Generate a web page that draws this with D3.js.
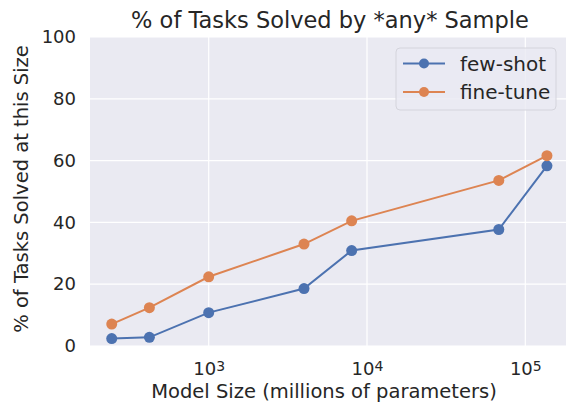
<!DOCTYPE html>
<html><head><meta charset="utf-8">
<script src="https://cdn.jsdelivr.net/npm/d3@7"></script>
<style>
body{margin:0;background:#fff;}
text{font-family:"DejaVu Sans",sans-serif;fill:#262626;}
</style></head><body>
<svg id="c" width="566" height="403"></svg>
<script>
const modelSizes = [244, 422, 1000, 4000, 8000, 68000, 137000];
const fewShot   = [2.4, 2.8, 10.8, 18.6, 30.9, 37.7, 58.3];
const fineTune  = [7.1, 12.4, 22.4, 33.0, 40.5, 53.6, 61.6];
const seriesNames = ["few-shot", "fine-tune"];
const seriesColors = ["#4C72B0", "#DD8452"];
const yTicks = [0, 20, 40, 60, 80, 100];
const xTicks = [1000, 10000, 100000];
const xTickExp = ["3", "4", "5"];

const svg = d3.select("#c");
const m = {l:90, t:37, r:566, b:346};
const dec = 158.3;
const xMin = 178, xMax = 1.6e5;
const x = d3.scaleLog().domain([xMin, xMax])
  .range([208.7 - dec*(3 - Math.log10(xMin)), 208.7 + dec*(Math.log10(xMax) - 3)]);
const y = d3.scaleLinear().domain([0, 100]).range([m.b, m.t]);

svg.append("rect").attr("x", m.l).attr("y", m.t).attr("width", m.r - m.l).attr("height", m.b - m.t).attr("fill", "#EAEAF2");

const g = svg.append("g");
g.selectAll(".gy").data(yTicks).join("line")
  .attr("x1", m.l).attr("x2", m.r).attr("y1", d => y(d)).attr("y2", d => y(d))
  .attr("stroke", "#fff").attr("stroke-width", 1.2);
g.selectAll(".gx").data(xTicks).join("line")
  .attr("y1", m.t).attr("y2", m.b).attr("x1", d => x(d)).attr("x2", d => x(d))
  .attr("stroke", "#fff").attr("stroke-width", 1.2);

// y axis labels
const yAxis = d3.axisLeft(y).tickValues(yTicks).tickSize(0).tickPadding(14);
const ya = svg.append("g").attr("transform", `translate(${m.l},0)`).call(yAxis);
ya.select(".domain").remove();
ya.selectAll("text").attr("font-size", 18).attr("fill", "#262626").attr("font-family", "DejaVu Sans");

// x axis labels with superscripts
const xAxis = d3.axisBottom(x).tickValues(xTicks).tickSize(0).tickPadding(0).tickFormat(() => "");
const xa = svg.append("g").attr("transform", `translate(0,${m.b})`).call(xAxis);
xa.select(".domain").remove();
xa.selectAll(".tick text").each(function(d, i) {
  const t = d3.select(this).attr("font-size", 18).attr("fill", "#262626").attr("font-family", "DejaVu Sans")
    .attr("y", 29).attr("dy", 0).attr("dx", 0);
  t.append("tspan").text("10");
  t.append("tspan").attr("font-size", 14).attr("dy", -4).text(xTickExp[i]);
});

// labels
svg.append("text").attr("x", 324).attr("y", 398).attr("text-anchor", "middle").attr("font-size", 19.5).text("Model Size (millions of parameters)");
svg.append("text").attr("transform", "translate(28,189) rotate(-90)").attr("text-anchor", "middle").attr("font-size", 19.5).text("% of Tasks Solved at this Size");
svg.append("text").attr("x", 330).attr("y", 28).attr("text-anchor", "middle").attr("font-size", 22.5).text("% of Tasks Solved by *any* Sample");

// series
const seriesData = [fewShot, fineTune];
const line = d3.line().x(d => x(d[0])).y(d => y(d[1]));
seriesData.forEach((vals, si) => {
  const pts = modelSizes.map((s, i) => [s, vals[i]]);
  svg.append("path").datum(pts).attr("d", line).attr("fill", "none")
    .attr("stroke", seriesColors[si]).attr("stroke-width", 2);
  svg.selectAll(null).data(pts).join("circle")
    .attr("cx", d => x(d[0])).attr("cy", d => y(d[1])).attr("r", 5.5)
    .attr("fill", seriesColors[si]);
});

// legend
const lg = svg.append("g");
lg.append("rect").attr("x", 396).attr("y", 48).attr("width", 160).attr("height", 62).attr("rx", 4)
  .attr("fill", "#EAEAF2").attr("fill-opacity", 0.8).attr("stroke", "#d4d4dc").attr("stroke-width", 1);
seriesNames.forEach((n, i) => {
  const yy = 63.5 + i * 28.5;
  lg.append("line").attr("x1", 403).attr("x2", 445).attr("y1", yy).attr("y2", yy)
    .attr("stroke", seriesColors[i]).attr("stroke-width", 2);
  lg.append("circle").attr("cx", 424).attr("cy", yy).attr("r", 5).attr("fill", seriesColors[i]);
  lg.append("text").attr("x", 460).attr("y", yy).attr("dy", "0.35em").attr("font-size", 20).text(n);
});
</script>
</body></html>
